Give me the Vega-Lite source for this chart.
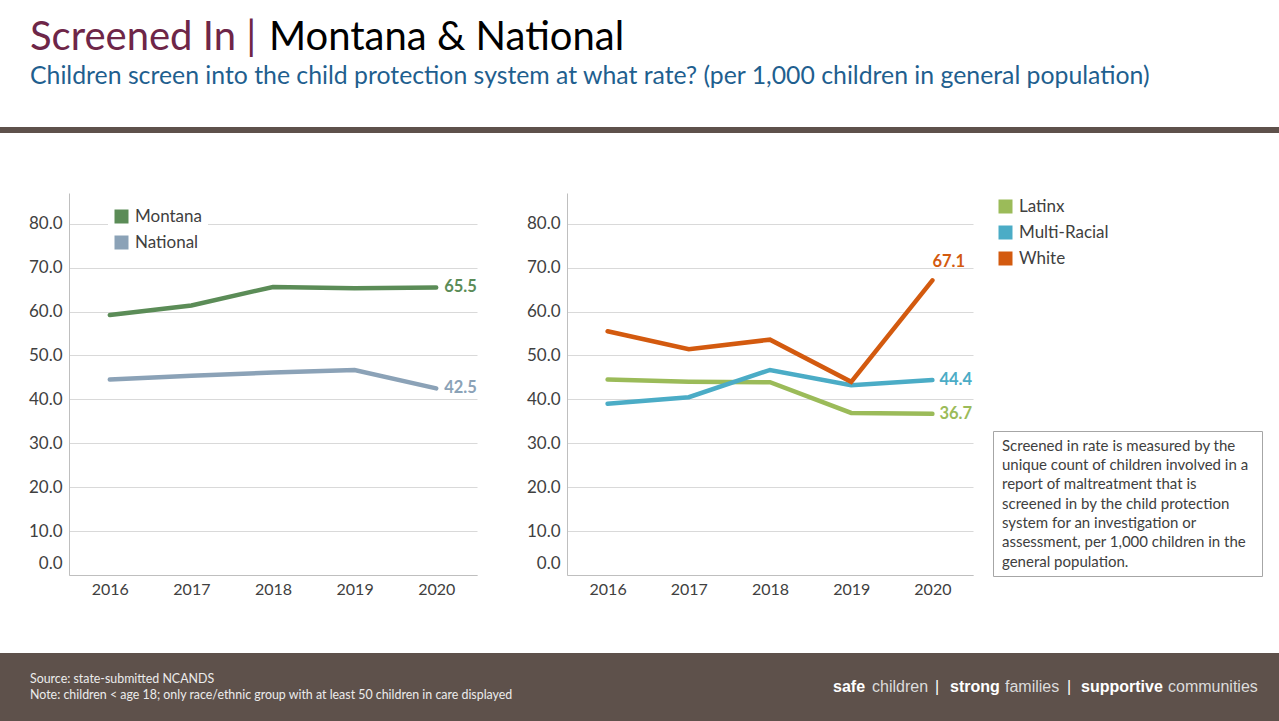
{
  "$schema": "https://vega.github.io/schema/vega-lite/v6.json",
  "padding": {"top": 18, "left": 0, "right": 0, "bottom": 0},
  "background": "white",
  "spacing": 60,
  "config": {
    "view": {"stroke": null},
    "font": "Lato",
    "axis": {"labelFont": "Lato", "labelFontSize": 16, "labelColor": "#404040", "domainColor": "#bfbfbf", "gridColor": "#d9d9d9", "ticks": false},
    "title": {"font": "Lato", "fontWeight": "normal", "anchor": "start"},
    "legend": {"title": null, "symbolType": "square", "symbolSize": 49, "symbolStrokeWidth": 7, "labelFontSize": 17, "labelColor": "#404040", "labelFont": "Lato", "labelOffset": 5}
  },
  "datasets": {
    "tagline": [
      {"seg": "safe"}, {"seg": "children"}, {"seg": "|", "n": 1}, {"seg": "strong"},
      {"seg": "families"}, {"seg": "|", "n": 2}, {"seg": "supportive"}, {"seg": "communities"}
    ]
  },
  "vconcat": [
    {
      "spacing": 5,
      "vconcat": [
        {
          "spacing": 12,
          "hconcat": [
            {"data": {"values": []}, "mark": "point", "encoding": {}, "width": 1, "height": 1,
             "title": {"text": "Screened In |", "color": "#6e2648", "fontSize": 40, "dx": 30, "offset": 0}},
            {"data": {"values": []}, "mark": "point", "encoding": {}, "width": 1, "height": 1,
             "title": {"text": "Montana & National", "color": "#000000", "fontSize": 40, "offset": 0}}
          ]
        },
        {"data": {"values": []}, "mark": "point", "encoding": {}, "width": 1279, "height": 6,
         "view": {"fill": "#5e514b", "stroke": null},
         "title": {"text": "Children screen into the child protection system at what rate? (per 1,000 children in general population)", "color": "#1f5f8f", "fontSize": 24.8, "dx": 30, "offset": 38}}
      ]
    },
    {
      "spacing": 56,
      "vconcat": [
        {
          "spacing": 20,
          "resolve": {"scale": {"color": "independent", "x": "independent", "y": "independent"}, "legend": {"color": "independent"}},
          "hconcat": [
            {"data": {"values": []}, "mark": "point", "encoding": {}, "width": 1, "height": 382},
            {
              "width": 408, "height": 382,
              "data": {"values": [
                {"year": "2016", "series": "Montana", "rate": 59.2},
                {"year": "2017", "series": "Montana", "rate": 61.4},
                {"year": "2018", "series": "Montana", "rate": 65.6},
                {"year": "2019", "series": "Montana", "rate": 65.3},
                {"year": "2020", "series": "Montana", "rate": 65.5},
                {"year": "2016", "series": "National", "rate": 44.5},
                {"year": "2017", "series": "National", "rate": 45.4},
                {"year": "2018", "series": "National", "rate": 46.1},
                {"year": "2019", "series": "National", "rate": 46.7},
                {"year": "2020", "series": "National", "rate": 42.5}
              ]},
              "encoding": {
                "x": {"field": "year", "type": "ordinal", "scale": {"type": "point", "padding": 0.5},
                      "axis": {"title": null, "labelAngle": 0, "labelPadding": 6, "grid": false, "minExtent": 14, "maxExtent": 14}},
                "y": {"field": "rate", "type": "quantitative", "scale": {"domain": [0, 87], "nice": false},
                      "axis": {"title": null, "values": [0, 10, 20, 30, 40, 50, 60, 70, 80], "format": ".1f", "grid": true, "labelFontSize": 17, "labelPadding": 7, "minExtent": 48, "maxExtent": 48,
                               "labelOffset": {"condition": {"test": "datum.value === 0", "value": -12}, "value": 0}}},
                "color": {"field": "series", "type": "nominal",
                          "scale": {"domain": ["Montana", "National"], "range": ["#5b8c57", "#8ba2b7"]},
                          "legend": {"orient": "none", "legendX": 39, "legendY": 10, "fillColor": "white", "padding": 5, "rowPadding": -14}}
              },
              "layer": [
                {"mark": {"type": "line", "strokeCap": "round"}, "encoding": {"strokeWidth": {"value": 4.5}}},
                {"transform": [{"filter": "datum.year === '2020'"}],
                 "mark": {"type": "text", "align": "left", "baseline": "middle", "dx": 8, "fontSize": 16.5, "fontWeight": "bold"},
                 "encoding": {"text": {"field": "rate", "type": "quantitative", "format": ".1f"}, "color": {"field": "series", "type": "nominal", "legend": null}}}
              ]
            },
            {
              "spacing": 20,
              "bounds": "flush",
              "hconcat": [
                {
                  "width": 406, "height": 382,
                  "data": {"values": [
                    {"year": "2016", "group": "Latinx", "rate": 44.5},
                    {"year": "2017", "group": "Latinx", "rate": 44.0},
                    {"year": "2018", "group": "Latinx", "rate": 43.9},
                    {"year": "2019", "group": "Latinx", "rate": 36.9},
                    {"year": "2020", "group": "Latinx", "rate": 36.7},
                    {"year": "2016", "group": "Multi-Racial", "rate": 39.0},
                    {"year": "2017", "group": "Multi-Racial", "rate": 40.5},
                    {"year": "2018", "group": "Multi-Racial", "rate": 46.7},
                    {"year": "2019", "group": "Multi-Racial", "rate": 43.2},
                    {"year": "2020", "group": "Multi-Racial", "rate": 44.4},
                    {"year": "2016", "group": "White", "rate": 55.5},
                    {"year": "2017", "group": "White", "rate": 51.4},
                    {"year": "2018", "group": "White", "rate": 53.6},
                    {"year": "2019", "group": "White", "rate": 44.0},
                    {"year": "2020", "group": "White", "rate": 67.1}
                  ]},
                  "encoding": {
                    "x": {"field": "year", "type": "ordinal", "scale": {"type": "point", "padding": 0.5},
                          "axis": {"title": null, "labelAngle": 0, "labelPadding": 6, "grid": false, "minExtent": 14, "maxExtent": 14}},
                    "y": {"field": "rate", "type": "quantitative", "scale": {"domain": [0, 87], "nice": false},
                          "axis": {"title": null, "values": [0, 10, 20, 30, 40, 50, 60, 70, 80], "format": ".1f", "grid": true, "labelFontSize": 17, "labelPadding": 7, "minExtent": 70, "maxExtent": 70,
                                   "labelOffset": {"condition": {"test": "datum.value === 0", "value": -12}, "value": 0}}},
                    "color": {"field": "group", "type": "nominal",
                              "scale": {"domain": ["Latinx", "Multi-Racial", "White"], "range": ["#9bbb59", "#4bacc6", "#d35a0f"]},
                              "legend": {"orient": "none", "legendX": 430, "legendY": 5, "padding": 0, "rowPadding": -14}}
                  },
                  "layer": [
                    {"mark": {"type": "line", "strokeCap": "round"}, "encoding": {"strokeWidth": {"value": 4.5}}},
                    {"transform": [{"filter": "datum.year === '2020' && datum.group === 'Latinx'"}],
                     "mark": {"type": "text", "align": "left", "baseline": "middle", "dx": 7, "fontSize": 16.5, "fontWeight": "bold", "color": "#9bbb59"},
                     "encoding": {"text": {"field": "rate", "type": "quantitative", "format": ".1f"}}},
                    {"transform": [{"filter": "datum.year === '2020' && datum.group === 'Multi-Racial'"}],
                     "mark": {"type": "text", "align": "left", "baseline": "middle", "dx": 7, "fontSize": 16.5, "fontWeight": "bold", "color": "#4bacc6"},
                     "encoding": {"text": {"field": "rate", "type": "quantitative", "format": ".1f"}}},
                    {"transform": [{"filter": "datum.year === '2020' && datum.group === 'White'"}],
                     "mark": {"type": "text", "align": "left", "baseline": "middle", "dx": 0, "dy": -18, "fontSize": 16.5, "fontWeight": "bold", "color": "#d35a0f"},
                     "encoding": {"text": {"field": "rate", "type": "quantitative", "format": ".1f"}}}
                  ]
                },
                {
                  "spacing": 0,
                  "vconcat": [
                    {"data": {"values": []}, "mark": "point", "encoding": {}, "width": 269, "height": 237},
                    {
                      "width": 269, "height": 145,
                      "view": {"stroke": "#a6a6a6", "strokeWidth": 1, "fill": "white"},
                      "data": {"values": [
                        {"line": 1, "note": "Screened in rate is measured by the"},
                        {"line": 2, "note": "unique count of children involved in a"},
                        {"line": 3, "note": "report of maltreatment that is"},
                        {"line": 4, "note": "screened in by the child protection"},
                        {"line": 5, "note": "system for an investigation or"},
                        {"line": 6, "note": "assessment, per 1,000 children in the"},
                        {"line": 7, "note": "general population."}
                      ]},
                      "mark": {"type": "text", "align": "left", "baseline": "middle", "dx": 9, "fontSize": 15, "color": "#404040"},
                      "encoding": {
                        "x": {"datum": 0, "type": "quantitative", "scale": {"domain": [0, 1]}, "axis": null},
                        "y": {"field": "line", "type": "ordinal", "scale": {"type": "point", "padding": 0.75}, "axis": null},
                        "text": {"field": "note"}
                      }
                    }
                  ]
                }
              ]
            }
          ]
        },
        {
          "width": 1279, "height": 68,
          "view": {"fill": "#5e514b", "stroke": null},
          "layer": [
            {
              "data": {"values": [
                {"note": "Source: state-submitted NCANDS\nNote: children < age 18; only race/ethnic group with at least 50 children in care displayed"}
              ]},
              "mark": {"type": "text", "align": "left", "baseline": "middle", "dx": 30, "dy": -8, "fontSize": 12.4, "lineBreak": "\n", "lineHeight": 16, "color": "#ececec"},
              "encoding": {
                "x": {"datum": 0, "type": "quantitative", "scale": {"domain": [0, 1]}, "axis": null},
                "text": {"field": "note"}
              }
            },
            {"data": {"name": "tagline"}, "transform": [{"filter": "datum.seg === 'safe'"}],
             "mark": {"type": "text", "align": "left", "baseline": "middle", "dx": -446, "font": "Liberation Sans", "fontSize": 16, "fontWeight": "bold", "color": "#ffffff"},
             "encoding": {"x": {"datum": 1, "type": "quantitative", "scale": {"domain": [0, 1]}, "axis": null}, "text": {"field": "seg"}}},
            {"data": {"name": "tagline"}, "transform": [{"filter": "datum.seg === 'children'"}],
             "mark": {"type": "text", "align": "left", "baseline": "middle", "dx": -407, "font": "Liberation Sans", "fontSize": 16, "color": "#dcdcdc"},
             "encoding": {"x": {"datum": 1, "type": "quantitative", "scale": {"domain": [0, 1]}, "axis": null}, "text": {"field": "seg"}}},
            {"data": {"name": "tagline"}, "transform": [{"filter": "datum.seg === '|' && datum.n === 1"}],
             "mark": {"type": "text", "align": "left", "baseline": "middle", "dx": -344, "font": "Liberation Sans", "fontSize": 16, "color": "#ffffff"},
             "encoding": {"x": {"datum": 1, "type": "quantitative", "scale": {"domain": [0, 1]}, "axis": null}, "text": {"field": "seg"}}},
            {"data": {"name": "tagline"}, "transform": [{"filter": "datum.seg === 'strong'"}],
             "mark": {"type": "text", "align": "left", "baseline": "middle", "dx": -329, "font": "Liberation Sans", "fontSize": 16, "fontWeight": "bold", "color": "#ffffff"},
             "encoding": {"x": {"datum": 1, "type": "quantitative", "scale": {"domain": [0, 1]}, "axis": null}, "text": {"field": "seg"}}},
            {"data": {"name": "tagline"}, "transform": [{"filter": "datum.seg === 'families'"}],
             "mark": {"type": "text", "align": "left", "baseline": "middle", "dx": -274, "font": "Liberation Sans", "fontSize": 16, "color": "#dcdcdc"},
             "encoding": {"x": {"datum": 1, "type": "quantitative", "scale": {"domain": [0, 1]}, "axis": null}, "text": {"field": "seg"}}},
            {"data": {"name": "tagline"}, "transform": [{"filter": "datum.seg === '|' && datum.n === 2"}],
             "mark": {"type": "text", "align": "left", "baseline": "middle", "dx": -212, "font": "Liberation Sans", "fontSize": 16, "color": "#ffffff"},
             "encoding": {"x": {"datum": 1, "type": "quantitative", "scale": {"domain": [0, 1]}, "axis": null}, "text": {"field": "seg"}}},
            {"data": {"name": "tagline"}, "transform": [{"filter": "datum.seg === 'supportive'"}],
             "mark": {"type": "text", "align": "left", "baseline": "middle", "dx": -198, "font": "Liberation Sans", "fontSize": 16, "fontWeight": "bold", "color": "#ffffff"},
             "encoding": {"x": {"datum": 1, "type": "quantitative", "scale": {"domain": [0, 1]}, "axis": null}, "text": {"field": "seg"}}},
            {"data": {"name": "tagline"}, "transform": [{"filter": "datum.seg === 'communities'"}],
             "mark": {"type": "text", "align": "left", "baseline": "middle", "dx": -111, "font": "Liberation Sans", "fontSize": 16, "color": "#dcdcdc"},
             "encoding": {"x": {"datum": 1, "type": "quantitative", "scale": {"domain": [0, 1]}, "axis": null}, "text": {"field": "seg"}}}
          ]
        }
      ]
    }
  ]
}
